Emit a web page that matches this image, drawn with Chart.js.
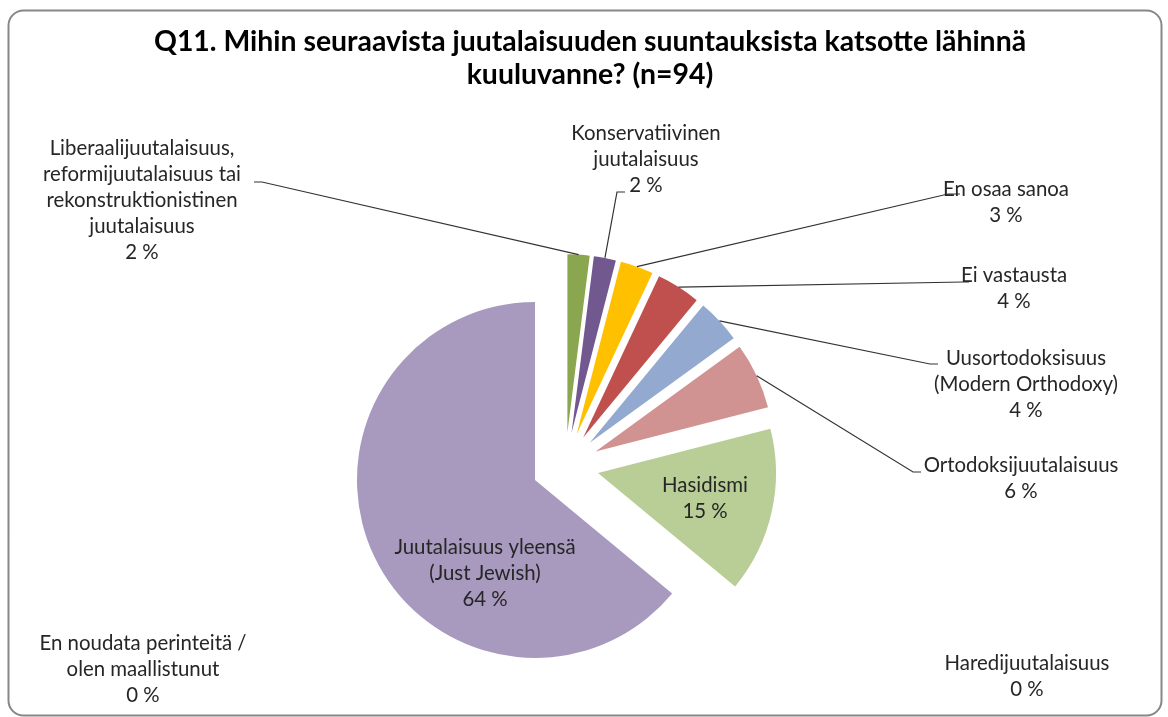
<!DOCTYPE html>
<html>
<head>
<meta charset="utf-8">
<script src="https://cdn.jsdelivr.net/npm/chart.js@4/dist/chart.umd.min.js"></script>
<style>
  html, body { margin: 0; padding: 0; background: #ffffff; }
  canvas { display: block; }
</style>
</head>
<body>
<canvas id="c" width="1168" height="717"></canvas>
<script>
// ---- data ----
const titleLines = ["Q11. Mihin seuraavista juutalaisuuden suuntauksista katsotte lähinnä", "kuuluvanne? (n=94)"];
const categories = [
  "Liberaalijuutalaisuus,\nreformijuutalaisuus tai\nrekonstruktionistinen\njuutalaisuus",
  "Konservatiivinen\njuutalaisuus",
  "En osaa sanoa",
  "Ei vastausta",
  "Uusortodoksisuus\n(Modern Orthodoxy)",
  "Ortodoksijuutalaisuus",
  "Hasidismi",
  "Haredijuutalaisuus",
  "Juutalaisuus yleensä\n(Just Jewish)",
  "En noudata perinteitä /\nolen maallistunut"
];
const values = [2, 2, 3, 4, 4, 6, 15, 0, 64, 0];
const colors = ["#8AA64E", "#71598F", "#FFC000", "#C0504D", "#93A9CF", "#D19392", "#B9CD96", "#A899BE", "#A899BE", "#A899BE"];

// ---- layout (positions of the data labels, not data) ----
const EXPLODE = 33.5;
const LINE_H = 26;
const labelLayout = [
  { x: 142, y: 148, tick: [[254, 182], [262, 182]] },
  { x: 646, y: 133, tick: [[625, 192], [617, 192]] },
  { x: 1006, y: 189, tick: [[960, 194], [948, 194]] },
  { x: 1014, y: 275, tick: [[969, 282], [963, 282]] },
  { x: 1026, y: 358, tick: [[938, 364], [930, 364]] },
  { x: 1021, y: 465, tick: [[921, 472], [913, 472]] },
  { x: 705, y: 485 },
  { x: 1027, y: 663 },
  { x: 485, y: 547 },
  { x: 143, y: 643 }
];

const framePlugin = {
  id: 'frame',
  beforeDraw(chart) {
    const ctx = chart.ctx;
    ctx.save();
    ctx.fillStyle = '#ffffff';
    ctx.fillRect(0, 0, chart.width, chart.height);
    ctx.beginPath();
    ctx.roundRect(8.5, 10.5, 1153, 705, 15);
    ctx.strokeStyle = '#878787';
    ctx.lineWidth = 2;
    ctx.stroke();
    // title
    ctx.fillStyle = '#000000';
    ctx.font = 'bold 28.4px Lato';
    ctx.textAlign = 'center';
    ctx.textBaseline = 'middle';
    titleLines.forEach((t, i) => ctx.fillText(t, 590, 42 + i * 33));
    ctx.restore();
  }
};

// draw each slice with the library's arc element, pushed out along its mid-angle (exploded pie)
const explodePlugin = {
  id: 'explode',
  beforeDatasetDraw(chart, args) {
    const ctx = chart.ctx;
    args.meta.data.forEach((arc) => {
      const p = arc.getProps(['startAngle', 'endAngle', 'circumference'], true);
      if (!p.circumference) return;
      const mid = (p.startAngle + p.endAngle) / 2;
      ctx.save();
      ctx.translate(Math.cos(mid) * EXPLODE, Math.sin(mid) * EXPLODE);
      arc.draw(ctx, chart.chartArea);
      ctx.restore();
    });
    return false;
  }
};

const labelPlugin = {
  id: 'pieLabels',
  afterDraw(chart) {
    const ctx = chart.ctx;
    const meta = chart.getDatasetMeta(0);
    ctx.save();
    ctx.font = '20.4px Lato';
    ctx.textAlign = 'center';
    ctx.textBaseline = 'middle';
    values.forEach((v, i) => {
      const L = labelLayout[i];
      const lines = categories[i].split('\n').concat([v + ' %']);
      if (L.tick) {
        const arc = meta.data[i];
        const p = arc.getProps(['x', 'y', 'startAngle', 'endAngle', 'outerRadius'], true);
        const mid = (p.startAngle + p.endAngle) / 2;
        const ax = p.x + Math.cos(mid) * (p.outerRadius + EXPLODE);
        const ay = p.y + Math.sin(mid) * (p.outerRadius + EXPLODE);
        ctx.beginPath();
        ctx.moveTo(L.tick[0][0], L.tick[0][1]);
        ctx.lineTo(L.tick[1][0], L.tick[1][1]);
        ctx.lineTo(ax, ay);
        ctx.strokeStyle = '#333333';
        ctx.lineWidth = 1.2;
        ctx.stroke();
      }
      ctx.fillStyle = '#262626';
      lines.forEach((t, k) => ctx.fillText(t, L.x, L.y + k * LINE_H));
    });
    ctx.restore();
  }
};

new Chart(document.getElementById('c'), {
  type: 'pie',
  data: {
    labels: categories.map(c => c.replace(/\n/g, ' ')),
    datasets: [{
      data: values,
      backgroundColor: colors,
      borderWidth: 0,
      offset: 0
    }]
  },
  options: {
    responsive: false,
    animation: false,
    radius: 178,
    layout: { padding: { left: 100, right: 137.4, top: 230, bottom: 15.6 } },
    plugins: {
      legend: { display: false },
      title: { display: false },
      tooltip: { enabled: false }
    },
    events: []
  },
  plugins: [framePlugin, explodePlugin, labelPlugin]
});
</script>
</body>
</html>
